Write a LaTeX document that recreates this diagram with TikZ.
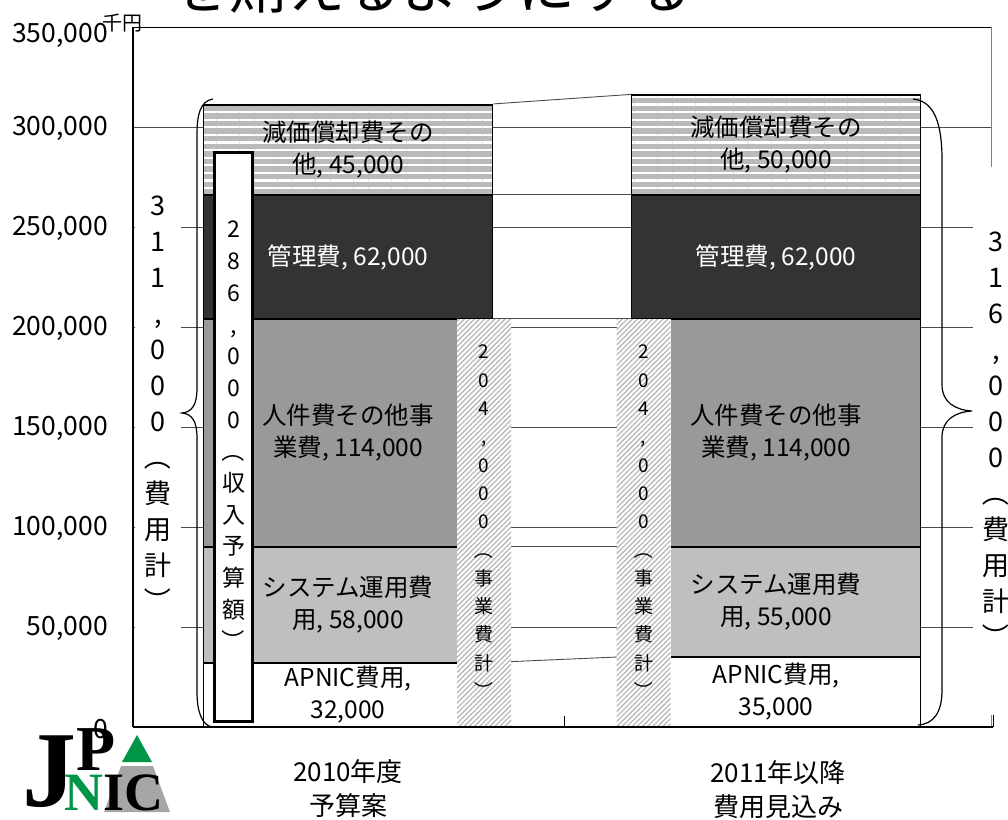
\documentclass[tikz,border=0pt]{standalone}
\usepackage{fontspec}
\usepackage{graphicx}
\setmainfont{Noto Sans CJK JP}
\newfontfamily\logofont{Liberation Serif}
\usetikzlibrary{patterns.meta}
\definecolor{vertlogo}{RGB}{0,150,70}
\newcommand{\parh}{\rotatebox[origin=c]{-90}{（}}
\newcommand{\parb}{\rotatebox[origin=c]{-90}{）}}

\begin{document}
\begin{tikzpicture}[x=1pt,y=-1pt]
\tikzset{segment/.style={draw, line width=1.2pt, inner sep=0pt, minimum width=289pt, align=center, font=\fontsize{24.5}{32}\selectfont}}
\tikzset{rayure/.style={pattern={Lines[angle=0,distance=7.6pt,line width=2.2pt]}, pattern color=white, preaction={fill=black!27}}}
\tikzset{hachure/.style={inner sep=0pt, minimum width=54pt, minimum height=408pt, align=center, font=\fontsize{19}{28.3}\selectfont, pattern={Lines[angle=45,distance=3.6pt,line width=1.3pt]}, pattern color=black!28, preaction={fill=white}}}
\tikzset{total/.style={fill=white, inner sep=0pt, minimum width=46pt, align=center, font=\fontsize{27}{36}\selectfont}}
\tikzset{grille/.style={black!70, line width=0.9pt}}
\tikzset{serie/.style={black!70, line width=0.9pt}}
\tikzset{graduation/.style={anchor=east, inner sep=0pt, font=\fontsize{26.5}{26.5}\selectfont}}
\useasboundingbox (0,0) rectangle (1008,819);
\clip (0,0) rectangle (1008,819);
\node[anchor=base, font=\fontsize{58}{58}\selectfont] (titre) at (432,9) {を賄えるようにする};
\draw[grille] (133,127) -- (991,127);
\draw[grille] (133,227) -- (991,227);
\draw[grille] (133,327) -- (991,327);
\draw[grille] (133,427) -- (991,427);
\draw[grille] (133,527) -- (991,527);
\draw[grille] (133,627) -- (991,627);
\draw[black!50, line width=1pt] (991,27) -- (991,727);
\draw[line width=1pt] (133,27) -- (991,27);
\draw[line width=1.2pt] (133,27) -- (133,727);
\node[graduation] (g350) at (108,35) {350,000};
\node[graduation] (g300) at (108,128) {300,000};
\node[graduation] (g250) at (108,228) {250,000};
\node[graduation] (g200) at (108,328) {200,000};
\node[graduation] (g150) at (108,428) {150,000};
\node[graduation] (g100) at (108,528) {100,000};
\node[graduation] (g50) at (108,628) {50,000};
\node[anchor=west, inner sep=0pt, font=\fontsize{20}{20}\selectfont] (unite) at (102,23) {千円};
\node[segment, minimum height=64pt, fill=white] (A1) at (348,695) {APNIC費用,\\32,000};
\node[segment, minimum height=116pt, fill=black!25] (S1) at (348,605) {システム運用費\\用, 58,000};
\node[segment, minimum height=228pt, fill=black!40] (P1) at (348,433) {人件費その他事\\業費, 114,000};
\node[segment, minimum height=124pt, fill=black!80, text=white] (M1) at (348,257) {管理費, 62,000};
\node[segment, rayure, minimum height=90pt] (D1) at (348,150) {減価償却費その\\他, 45,000};
\node[segment, minimum height=70pt, fill=white] (A2) at (776,692) {APNIC費用,\\35,000};
\node[segment, minimum height=110pt, fill=black!25] (S2) at (776,602) {システム運用費\\用, 55,000};
\node[segment, minimum height=228pt, fill=black!40] (P2) at (776,433) {人件費その他事\\業費, 114,000};
\node[segment, minimum height=124pt, fill=black!80, text=white] (M2) at (776,257) {管理費, 62,000};
\node[segment, rayure, minimum height=100pt] (D2) at (776,145) {減価償却費その\\他, 50,000};
\draw[serie] (D1.north east) -- (D2.north west);
\draw[serie] (M1.north east) -- (M2.north west);
\draw[serie] (P1.north east) -- (P2.north west);
\draw[serie] (S1.north east) -- (S2.north west);
\draw[serie] (A1.north east) -- (A2.north west);
\node[hachure] (E1) at (484,523) {2\\0\\4\\,\\0\\0\\0\\\parh\\事\\業\\費\\計\\\parb};
\node[hachure] (E2) at (643.5,523) {2\\0\\4\\,\\0\\0\\0\\\parh\\事\\業\\費\\計\\\parb};
\node[draw, line width=3pt, fill=white, inner sep=0pt, minimum width=38pt, minimum height=569pt, align=center, font=\fontsize{23}{31.7}\selectfont] (R1) at (233.5,437) {2\\8\\6\\,\\0\\0\\0\\\parh\\収\\入\\予\\算\\額\\\parb};
\node[total, minimum height=460pt] (C1) at (158,405) {3\\1\\1\\,\\0\\0\\0\\\parh\\費\\用\\計\\\parb};
\node[total, minimum height=548pt] (C2) at (996,441) {3\\1\\6\\,\\0\\0\\0\\\parh\\費\\用\\計\\\parb};
\draw[line width=1.2pt] (213,99) .. controls (200,101) and (197,115) .. (197,135) -- (197,388) .. controls (197,405) and (192,412) .. (182,413) .. controls (192,414) and (197,421) .. (197,438) -- (197,692) .. controls (197,712) and (202,725) .. (212,727);
\draw[line width=1.2pt] (913,99) .. controls (935,101) and (942,125) .. (942,160) -- (942,385) .. controls (942,402) and (955,410) .. (972,411) .. controls (955,412) and (942,420) .. (942,437) -- (942,690) .. controls (942,712) and (934,724) .. (918,725);
\draw[line width=2pt] (133,727) -- (993,727);
\draw[line width=1pt] (564,727) -- (564,716);
\draw[line width=1pt] (993,727) -- (993,715);
\node[align=center, font=\fontsize{26}{34}\selectfont] (an1) at (348,789) {2010年度\\予算案};
\node[align=center, font=\fontsize{26}{34}\selectfont] (an2) at (778,790) {2011年以降\\費用見込み};
\fill[black!35] (104,812) -- (121,766) -- (153,766) -- (170,812) -- cycle;
\fill[vertlogo] (122,762) -- (137,735) -- (152,762) -- cycle;
\node[anchor=base west, inner sep=0pt, font=\logofont\bfseries\fontsize{108}{108}\selectfont] (J) at (22,806) {J};
\node[anchor=base west, inner sep=0pt, font=\logofont\bfseries\fontsize{64}{64}\selectfont] (P) at (76,770) {P};
\node[anchor=base west, inner sep=0pt, font=\logofont\bfseries\fontsize{54}{54}\selectfont] (NIC) at (64,810) {\textcolor{vertlogo}{N}IC};
\node[graduation] (g0) at (108,729) {0};
\end{tikzpicture}
\end{document}
